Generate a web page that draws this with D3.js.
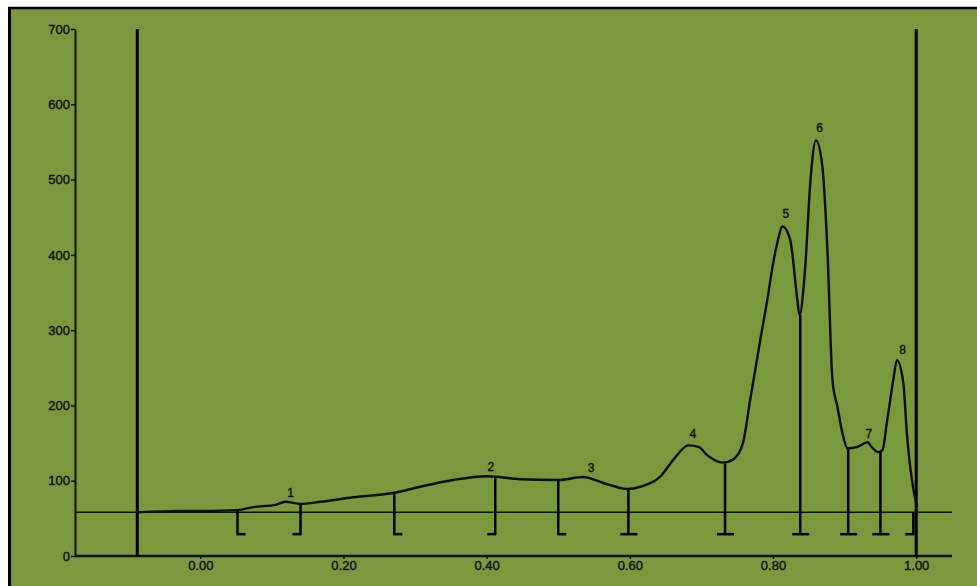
<!DOCTYPE html>
<html>
<head>
<meta charset="utf-8">
<title>Chromatogram</title>
<script src="https://d3js.org/d3.v7.min.js"></script>
<style>
    body { margin: 0; background: #fff; }
    svg text { font-family: 'Liberation Sans', Arial, sans-serif; font-size: 13px; fill: #111; stroke: #111; stroke-width: 0.4px; }
    .axis path, .axis line { stroke: #111; }
</style>
</head>
<body>
<svg id="chart" width="977" height="586"></svg>
<script>
    // trace: retention (relative) vs signal
    const rt = [-0.088, -0.028, 0.014, 0.052, 0.074, 0.105, 0.119, 0.140, 0.168, 0.214, 0.271, 0.307,
        0.353, 0.401, 0.447, 0.500, 0.535, 0.563, 0.596, 0.615, 0.642, 0.661, 0.682, 0.696, 0.708,
        0.730, 0.744, 0.758, 0.768, 0.775, 0.782, 0.792, 0.800, 0.807, 0.813, 0.824, 0.834, 0.837,
        0.845, 0.852, 0.860, 0.869, 0.876, 0.883, 0.890, 0.897, 0.904, 0.918, 0.932, 0.936, 0.947,
        0.953, 0.959, 0.968, 0.973, 0.982, 0.987, 0.994, 1.001];
    const signal = [58, 60, 60, 61, 65, 68, 72, 69, 72, 78, 84, 92,
        101, 106, 102, 101, 105, 97, 89, 92, 105, 128, 147, 145, 134,
        124, 128, 150, 207, 246, 286, 340, 388, 420, 438, 420, 340, 320,
        384, 495, 552, 517, 406, 234, 198, 163, 143, 145, 151, 147, 138,
        141, 177, 234, 260, 230, 163, 101, 65];

    // peak numbers
    const peakNames = ["1", "2", "3", "4", "5", "6", "7", "8"];
    const peakRt = [0.126, 0.406, 0.546, 0.688, 0.818, 0.865, 0.934, 0.981];
    const peakLabelY = [84, 119, 117, 162, 454, 569, 162, 274];

    // integration drop lines
    const dropRt = [0.052, 0.140, 0.271, 0.412, 0.500, 0.598, 0.733, 0.838, 0.905, 0.950, 0.996];
    const dropTop = [61, 69, 84, 105, 101, 89, 123, 320, 143, 138, 58];
    const dropFoot = ["r", "l", "r", "l", "r", "b", "b", "b", "b", "b", "l"];

    const baseline = 58;
    const dropBottom = 29;
    const markers = [-0.088, 1.00];
    const yTicks = [0, 100, 200, 300, 400, 500, 600, 700];
    const xTicks = [0, 0.2, 0.4, 0.6, 0.8, 1.0];

    const svg = d3.select("#chart");

    // frame
    svg.append("rect").attr("x", 10).attr("y", 8).attr("width", 967).attr("height", 578)
        .attr("fill", "#7a983e");
    svg.append("line").attr("x1", 9.5).attr("x2", 9.5).attr("y1", 7).attr("y2", 586)
        .attr("stroke", "#000").attr("stroke-width", 3);
    svg.append("line").attr("x1", 8).attr("x2", 977).attr("y1", 8).attr("y2", 8)
        .attr("stroke", "#000").attr("stroke-width", 2.5);

    const x = d3.scaleLinear().domain([-0.175, 1.05]).range([75, 952]);
    const y = d3.scaleLinear().domain([0, 700]).range([556, 29]);

    // y axis
    const yAxis = svg.append("g").attr("class", "axis")
        .attr("transform", "translate(75,0)")
        .call(d3.axisLeft(y).tickValues(yTicks).tickSize(4).tickSizeOuter(0));
    yAxis.select(".domain").attr("stroke-width", 2);
    yAxis.selectAll(".tick line").attr("stroke-width", 1.5);
    yAxis.selectAll("text").attr("x", -5);

    // x axis
    const xAxis = svg.append("g").attr("class", "axis")
        .attr("transform", "translate(0," + y(0) + ")")
        .call(d3.axisBottom(x).tickValues(xTicks).tickFormat(d3.format(".2f")).tickSize(3));
    xAxis.select(".domain").remove();
    xAxis.selectAll(".tick line").attr("stroke-width", 1.5);
    xAxis.selectAll("text").attr("y", 5);
    svg.append("line")
        .attr("x1", x.range()[0]).attr("x2", x.range()[1])
        .attr("y1", y(0)).attr("y2", y(0))
        .attr("stroke", "#111").attr("stroke-width", 2.5);

    // start / end markers
    svg.selectAll(".marker").data(markers).enter().append("line")
        .attr("class", "marker")
        .attr("x1", d => x(d)).attr("x2", d => x(d))
        .attr("y1", y(700)).attr("y2", y(0))
        .attr("stroke", "#000").attr("stroke-width", 3);

    // baseline
    svg.append("line")
        .attr("x1", x.range()[0]).attr("x2", x.range()[1])
        .attr("y1", y(baseline)).attr("y2", y(baseline))
        .attr("stroke", "#111").attr("stroke-width", 1.5);

    // drop lines
    const drops = svg.append("g");
    dropRt.forEach((d, i) => {
        const px = x(d);
        drops.append("line")
            .attr("x1", px).attr("x2", px)
            .attr("y1", y(dropTop[i])).attr("y2", y(dropBottom))
            .attr("stroke", "#000").attr("stroke-width", 2.5);
        let x1 = px, x2 = px;
        if (dropFoot[i] == "r") { x1 = px - 1; x2 = px + 8; }
        if (dropFoot[i] == "l") { x1 = px - 8; x2 = px + 1; }
        if (dropFoot[i] == "b") { x1 = px - 8; x2 = px + 9; }
        drops.append("line")
            .attr("x1", x1).attr("x2", x2)
            .attr("y1", y(dropBottom)).attr("y2", y(dropBottom))
            .attr("stroke", "#000").attr("stroke-width", 2.5);
    });

    // trace
    const line = d3.line()
        .x((d, i) => x(rt[i]))
        .y(d => y(d))
        .curve(d3.curveMonotoneX);
    svg.append("path")
        .datum(signal)
        .attr("d", line)
        .attr("fill", "none")
        .attr("stroke", "#0d0d0d")
        .attr("stroke-width", 2.4);

    // peak labels
    svg.selectAll(".peak").data(peakNames).enter().append("text")
        .attr("class", "peak")
        .attr("x", (d, i) => x(peakRt[i]))
        .attr("y", (d, i) => y(peakLabelY[i]))
        .attr("text-anchor", "middle")
        .attr("dy", "0.35em")
        .style("font-size", "12px")
        .text(d => d);
</script>
</body>
</html>
